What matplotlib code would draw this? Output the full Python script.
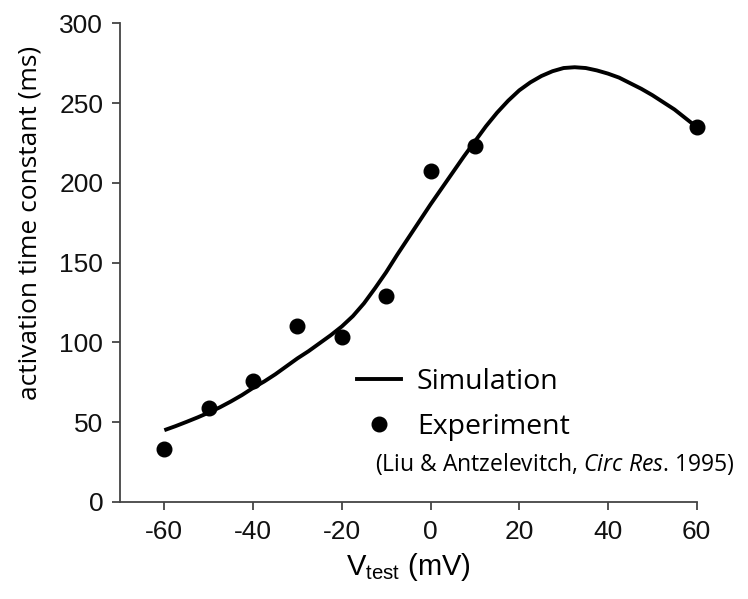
import numpy as np
import matplotlib
matplotlib.use("Agg")
import matplotlib.pyplot as plt
from matplotlib.lines import Line2D

plt.rcParams['font.family'] = ['Liberation Sans', 'DejaVu Sans']
plt.rcParams['mathtext.fontset'] = 'custom'
plt.rcParams['mathtext.rm'] = 'Open Sans'
plt.rcParams['mathtext.it'] = 'Open Sans:italic'

# simulated curve (every 2.5 mV)
sim_v = [-60, -57.5, -55, -52.5, -50, -47.5, -45, -42.5, -40, -37.5, -35,
         -32.5, -30, -27.5, -25, -22.5, -20, -17.5, -15, -12.5, -10, -7.5,
         -5, -2.5, 0, 2.5, 5, 7.5, 10, 12.5, 15, 17.5, 20, 22.5, 25, 27.5,
         30, 32.5, 35, 37.5, 40, 42.5, 45, 47.5, 50, 52.5, 55, 57.5, 60]
sim_tau = [45, 47.5, 50.2, 53, 56, 59.3, 63, 67, 71.5, 75.5, 80,
           85, 90, 94.5, 99.5, 104.5, 110, 116.5, 124.5, 134, 144, 155,
           165.5, 176, 186.5, 196.5, 206.5, 216.5, 226, 235.5, 244, 251.5, 258, 263, 267, 270,
           272, 272.5, 272, 270.5, 268.5, 266, 262.5, 259, 255, 250.5, 246, 240.5, 235]

# experiment (Liu & Antzelevitch 1995)
exp_v = [-60, -50, -40, -30, -20, -10, 0, 10, 60]
exp_tau = [33, 59, 76, 110, 103.5, 129, 207.5, 223, 235]

xticks = [-60, -40, -20, 0, 20, 40, 60]
yticks = [0, 50, 100, 150, 200, 250, 300]

fig = plt.figure(figsize=(7.48, 5.99), dpi=100)
ax = fig.add_axes([0.1604, 0.162, 0.771, 0.799])

ax.plot(sim_v, sim_tau, color='black', lw=2.8, solid_capstyle='butt',
        solid_joinstyle='round')
ax.plot(exp_v, exp_tau, 'o', color='black', ms=10.5, clip_on=False)

ax.set_xlim(-70, 60)
ax.set_ylim(0, 300)
ax.set_xticks(xticks)
ax.set_yticks(yticks)
ax.set_xticklabels([str(t) for t in xticks])

for s in ['top', 'right']:
    ax.spines[s].set_visible(False)
for s in ['left', 'bottom']:
    ax.spines[s].set_color('#444444')
    ax.spines[s].set_linewidth(1.3)
ax.tick_params(axis='both', direction='out', length=6, width=1.3,
               color='#444444', labelsize=19, labelcolor='#111111')
ax.tick_params(axis='x', pad=7)
ax.tick_params(axis='y', pad=6)

ax.set_ylabel('activation time constant (ms)', fontsize=19,
              family='Open Sans')
ax.yaxis.set_label_coords(-0.134, 0.582)
ax.set_xlabel(r'$\mathregular{V_{test}}$ (mV)', fontsize=21, labelpad=5)

handles = [Line2D([], [], color='black', lw=2.8),
           Line2D([], [], marker='o', ls='none', color='black', ms=10.5)]
leg = ax.legend(handles, ['Simulation', 'Experiment'], frameon=False,
                loc='upper left', bbox_to_anchor=(357 / 748, 1 - 368 / 599),
                bbox_transform=fig.transFigure, borderpad=0, borderaxespad=0,
                handlelength=1.55, handletextpad=0.55, labelspacing=0.6,
                prop={'family': 'Open Sans', 'size': 20.5})

ax.text(375 / 748, 1 - 464 / 599,
        r'(Liu & Antzelevitch, $\mathit{Circ\ Res}$. 1995)',
        transform=fig.transFigure, fontsize=16.5, family='Open Sans',
        va='center', ha='left')

fig.savefig('out.png', dpi=100)
